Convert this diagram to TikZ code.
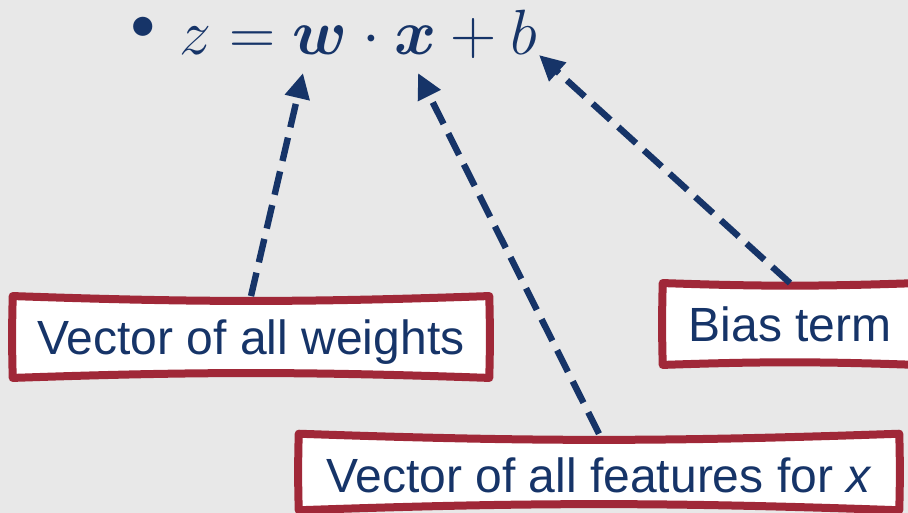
\RequirePackage{fix-cm}
\documentclass[tikz,border=0pt]{standalone}
\usepackage{amsmath,bm}
\usepackage{fontspec}
\setsansfont{Liberation Sans}
\usepackage{xcolor}
\definecolor{navy}{RGB}{22,52,104}
\definecolor{wine}{RGB}{160,40,56}
\definecolor{paper}{RGB}{232,232,232}
\usepackage{tikz}
\usetikzlibrary{arrows.meta,positioning,backgrounds}
\tikzset{
  %% Callout boxes: text only, the frame is drawn behind them
  callout/.style={inner sep=0pt, text height=44pt, text depth=17pt,
    font=\fontsize{36}{40}\sffamily, text=navy},
  sketchline/.style={draw=wine, fill=white, line width=6pt, line join=round},
  %% Dashed pointers from a box to a symbol
  pointer/.style={draw=navy, line width=4.8pt, dash pattern=on 18pt off 8pt,
    -{Triangle[length=19pt,width=18pt]}},
  formula/.style={inner sep=0pt, text=navy, font=\fontsize{48}{56}\selectfont},
}
\newcommand{\sketchframe}[1]{%
  \filldraw[sketchline] (#1.north west) to[bend right=2] (#1.north east)
    to[bend left=1.5] (#1.south east) to[bend right=2] (#1.south west)
    to[bend left=1.5] cycle;}

\begin{document}
\begin{tikzpicture}[x=0.75pt,y=0.75pt]
\useasboundingbox (0,0) rectangle (908,513);
\begin{scope}[on background layer]
  \fill[paper] (0,0) rectangle (908,513);
\end{scope}

\node[formula,font=\fontsize{64}{70}\selectfont] (dot) at (143,480) {\textbullet};
\node[formula,anchor=base west] (eqn) at (179,458) {$z = \bm{w}\cdot\bm{x} + b$};
\coordinate (wtip) at (303,440);
\coordinate (xtip) at (418,440);
\coordinate (btip) at (539,458);

\node[callout,minimum width=357pt] (weights) at (251,176) {Vector of all weights};
\node[callout,minimum width=190.5pt] (bias) at (790,189) {Bias term};
\node[callout,minimum width=450pt,text depth=13pt] (features) at (599,41)
  {Vector of all features for \textit{x}};

\begin{scope}[on background layer]
  \sketchframe{weights}
  \sketchframe{bias}
  \sketchframe{features}
\end{scope}

\draw[pointer] (weights.north) -- (wtip);
\draw[pointer] (features.north) -- (xtip);
\draw[pointer] (bias.north) -- (btip);
\end{tikzpicture}
\end{document}
